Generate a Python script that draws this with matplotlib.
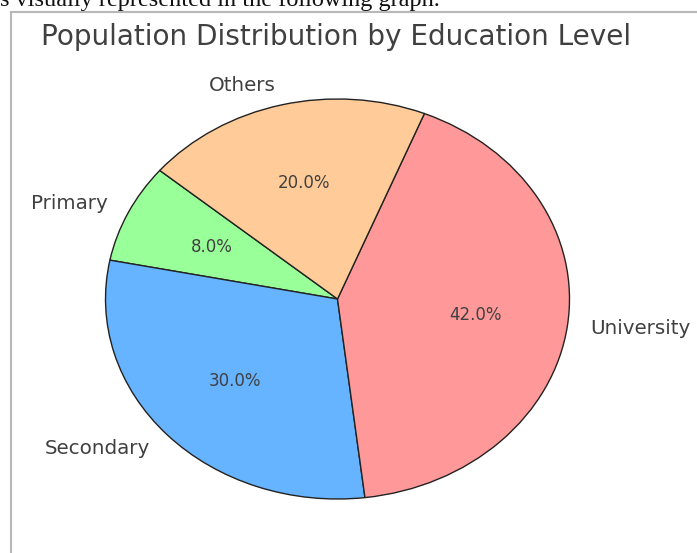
import matplotlib
matplotlib.use("Agg")
import matplotlib.pyplot as plt
from matplotlib.lines import Line2D

plt.rcParams["font.family"] = ["DejaVu Sans"]

categories = ["Primary", "Secondary", "University", "Others"]
shares = [8, 30, 42, 20]
colors = ["#99ff99", "#66b3ff", "#ff9999", "#ffcc99"]
title = "Population Distribution by Education Level"
doc_text = "s visually represented in the following graph."

W, H = 697, 553
fig = plt.figure(figsize=(W / 100, H / 100), dpi=100)

def fx(px):
    return px / W

def fy(py):
    return 1 - py / H

# document text clipped at the top
fig.text(fx(0), fy(6), doc_text, family="Liberation Serif", fontsize=17.5,
         color="#111111", ha="left", va="baseline")

# frame of embedded image
fig.add_artist(Line2D([fx(10.5), fx(10.5)], [fy(12), fy(553)], color="#b8b8b8", lw=1.5))
fig.add_artist(Line2D([fx(10.5), fx(697)], [fy(12), fy(12)], color="#b8b8b8", lw=1.5))

cx, cy, rx, ry = 337.5, 299, 232, 200
ax = fig.add_axes([fx(cx - rx), fy(cy + ry), 2 * rx / W, 2 * ry / H])
wedges, texts, autotexts = ax.pie(
    shares, labels=categories, colors=colors, autopct="%1.1f%%",
    startangle=140, pctdistance=0.6, labeldistance=1.1,
    wedgeprops=dict(edgecolor="#222222", linewidth=1.0),
    textprops=dict(fontsize=14.3, color="#404040"))
for w in wedges:
    w.set_clip_on(False)
for t in autotexts:
    t.set_fontsize(12)
ax.set_aspect("auto")
ax.set_xlim(-1, 1)
ax.set_ylim(-1, 1)
ax.axis("off")

fig.text(fx(336), fy(37), title, fontsize=20.1, color="#404040", ha="center", va="center")

fig.savefig("out.png", dpi=100, facecolor="white")
